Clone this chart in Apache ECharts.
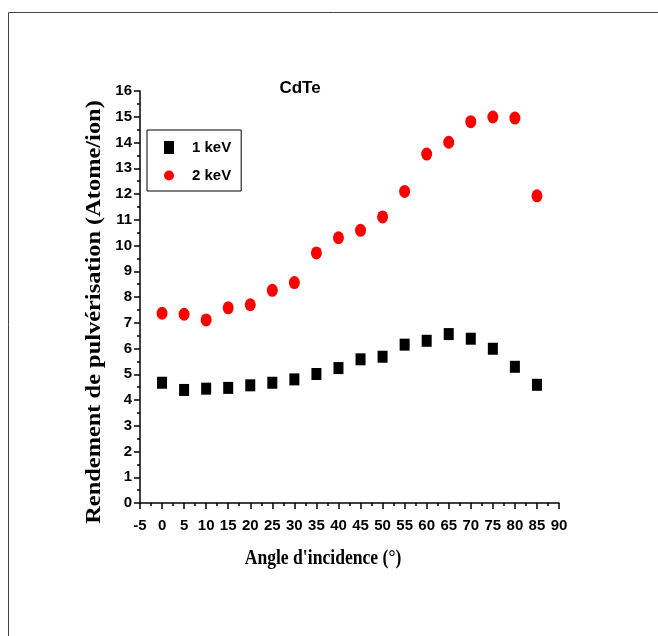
<!DOCTYPE html>
<html>
<head>
<meta charset="utf-8">
<script src="https://cdn.jsdelivr.net/npm/echarts@6/dist/echarts.min.js"></script>
<style>
html,body{margin:0;padding:0;background:#fff;}
#chart{width:658px;height:636px;}
</style>
</head>
<body>
<div id="chart"></div>
<script>
const angles = [0, 5, 10, 15, 20, 25, 30, 35, 40, 45, 50, 55, 60, 65, 70, 75, 80, 85];
const yield1keV = [4.67, 4.39, 4.44, 4.47, 4.57, 4.67, 4.80, 5.01, 5.24, 5.58, 5.68, 6.15, 6.30, 6.56, 6.38, 5.99, 5.29, 4.59];
const yield2keV = [7.37, 7.33, 7.11, 7.58, 7.70, 8.26, 8.56, 9.71, 10.30, 10.59, 11.11, 12.10, 13.55, 14.01, 14.81, 14.99, 14.95, 11.93];
const seriesNames = ['1 keV', '2 keV'];
const titleText = 'CdTe';
const xTitle = "Angle d'incidence (°)";
const yTitle = 'Rendement de pulvérisation (Atome/ion)';

const chart = echarts.init(document.getElementById('chart'), null, {renderer: 'canvas'});
const sans = '"Liberation Sans", Arial, sans-serif';
const serif = '"Liberation Serif", "Times New Roman", serif';

const axisCommon = {
  axisLine: {show: true, onZero: false, lineStyle: {color: '#000', width: 1.5}},
  axisTick: {show: true, inside: false, length: 6, lineStyle: {color: '#000', width: 1.5}},
  minorTick: {show: true, splitNumber: 2, length: 3, lineStyle: {color: '#000', width: 1.5}},
  splitLine: {show: false},
  minorSplitLine: {show: false}
};

chart.setOption({
  animation: false,
  backgroundColor: '#fff',
  grid: {left: 140, right: 99, top: 91, bottom: 133, containLabel: false},
  xAxis: Object.assign({
    type: 'value', min: -5, max: 90, interval: 5,
    axisLabel: {color: '#000', fontFamily: sans, fontWeight: 'bold', fontSize: 15, margin: 15, showMinLabel: true, showMaxLabel: true}
  }, axisCommon),
  yAxis: Object.assign({
    type: 'value', min: 0, max: 16, interval: 1,
    axisLabel: {color: '#000', fontFamily: sans, fontWeight: 'bold', fontSize: 15, margin: 8}
  }, axisCommon),
  legend: {
    data: seriesNames,
    orient: 'vertical',
    left: 147, top: 130,
    padding: [10, 10, 8, 17],
    itemWidth: 10, itemHeight: 13, itemGap: 13,
    borderColor: '#000', borderWidth: 1,
    selectedMode: false,
    textStyle: {color: '#000', fontFamily: sans, fontWeight: 'bold', fontSize: 15, padding: [0, 0, 0, 13]}
  },
  series: [
    {
      name: seriesNames[0], type: 'scatter', symbol: 'rect', symbolSize: [10, 12],
      itemStyle: {color: '#000', opacity: 1},
      data: angles.map((a, i) => [a, yield1keV[i]])
    },
    {
      name: seriesNames[1], type: 'scatter', symbol: 'circle', symbolSize: [11, 13],
      itemStyle: {color: '#ff0000', opacity: 1},
      data: angles.map((a, i) => [a, yield2keV[i]])
    }
  ],
  graphic: [
    {type: 'rect', silent: true, shape: {x: 8.5, y: 12.5, width: 700, height: 700},
     style: {fill: 'none', stroke: '#444', lineWidth: 1}},
    {type: 'text', silent: true, x: 300, y: 88,
     style: {text: titleText, align: 'center', verticalAlign: 'middle', fill: '#000',
             fontFamily: sans, fontWeight: 'bold', fontSize: 17}},
    {type: 'text', silent: true, x: 323, y: 558, scaleX: 0.8,
     style: {text: xTitle, align: 'center', verticalAlign: 'middle', fill: '#000',
             fontFamily: serif, fontWeight: 'bold', fontSize: 22}},
    {type: 'text', silent: true, x: 95, y: 312, rotation: Math.PI / 2, scaleX: 1.22,
     style: {text: yTitle, align: 'center', verticalAlign: 'middle', fill: '#000',
             fontFamily: serif, fontWeight: 'bold', fontSize: 20}}
  ]
});
</script>
</body>
</html>
